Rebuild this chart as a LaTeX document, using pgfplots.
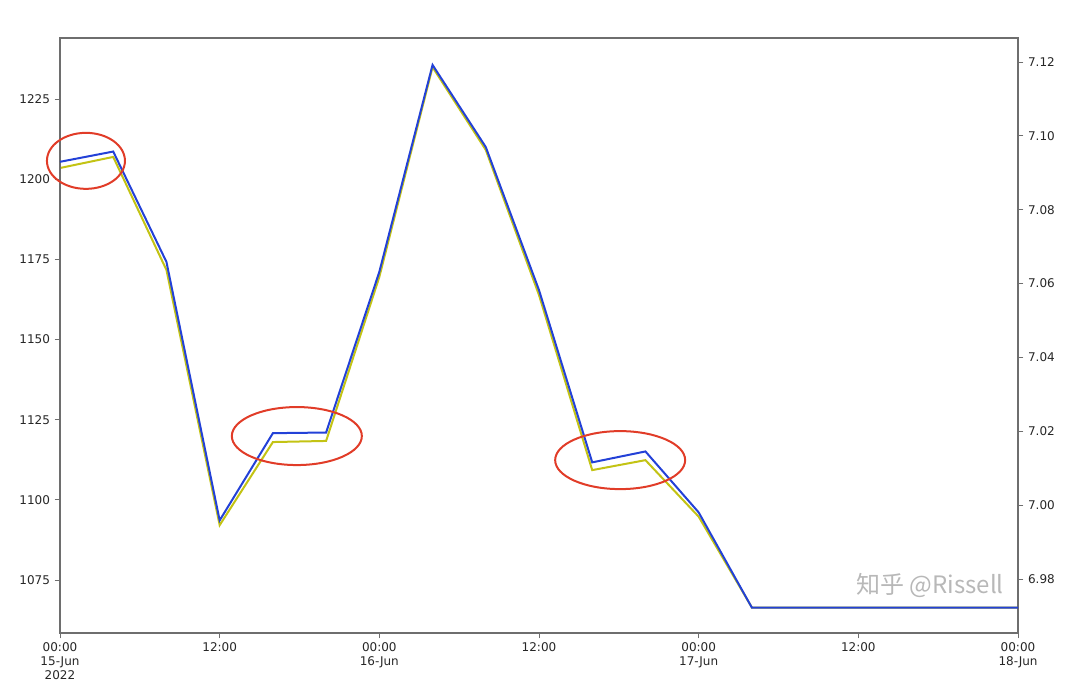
\documentclass[border=0pt]{standalone}
\usepackage{pgfplots}
\pgfplotsset{compat=1.18}
\usepackage{fontspec}
\setmainfont{DejaVu Sans}
\newfontfamily\cjk{Noto Sans CJK SC}
\definecolor{lblue}{RGB}{35,65,215}
\definecolor{lyellow}{RGB}{195,195,20}
\definecolor{ered}{RGB}{225,60,40}
\definecolor{framec}{RGB}{110,110,110}

\pgfplotstableread{
h usd
0 1205.4
4 1208.6
8 1174.2
12 1093.6
16 1120.8
20 1121.0
24 1171.1
28 1235.6
32 1210.0
36 1165.4
40 1111.7
44 1115.1
48 1096.1
52 1066.4
56 1066.4
60 1066.4
64 1066.4
68 1066.4
72 1066.4
}\bluedata

\pgfplotstableread{
h rate
0 7.0913
4 7.0943
8 7.0637
12 6.9946
16 7.0171
20 7.0174
24 7.0618
28 7.1186
32 7.0962
36 7.0569
40 7.0095
44 7.0122
48 6.9969
52 6.9723
56 6.9723
60 6.9723
64 6.9723
68 6.9723
72 6.9723
}\yellowdata

\begin{document}
\begin{tikzpicture}
\pgfplotsset{
  every axis/.append style={
    scale only axis, width=718.5pt, height=446.25pt,
    xmin=0, xmax=72,
    tick label style={font=\fontsize{9}{10.5}\selectfont, text=black!85},
    /pgf/number format/assume math mode=true,
    tick align=outside,
    major tick length=4pt,
    every tick/.style={framec, line width=0.6pt},
    axis line style={framec, line width=0.8pt},
  }
}
% right axis (yellow)
\begin{axis}[
  axis y line*=right, axis x line=none,
  ymin=6.9654, ymax=7.1265,
  ytick={6.98,7.00,7.02,7.04,7.06,7.08,7.10,7.12},
  yticklabel style={/pgf/number format/.cd, fixed, fixed zerofill, precision=2},
]
\addplot[lyellow, line width=1.5pt, line join=miter] table[x=h, y=rate] {\yellowdata};
\end{axis}
% left axis (blue)
\begin{axis}[
  name=ax,
  ymin=1058.5, ymax=1244.0,
  ytick={1075,1100,1125,1150,1175,1200,1225},
  ytick pos=left, xtick pos=bottom,
  yticklabel style={/pgf/number format/.cd, fixed, 1000 sep={}},
  xtick={0,12,24,36,48,60,72},
  xticklabels={{00:00\\15-Jun\\2022},{12:00},{00:00\\16-Jun},{12:00},{00:00\\17-Jun},{12:00},{00:00\\18-Jun}},
  xticklabel style={align=center},
  clip=false,
]
\addplot[lblue, line width=1.5pt, line join=miter] table[x=h, y=usd] {\bluedata};
\draw[ered, line width=1.5pt] (axis cs:1.95,1205.7) ellipse [x radius=29.25pt, y radius=21pt];
\draw[ered, line width=1.5pt] (axis cs:17.8,1119.9) ellipse [x radius=48.75pt, y radius=21.75pt];
\draw[ered, line width=1.5pt] (axis cs:42.1,1112.4) ellipse [x radius=48.75pt, y radius=21.75pt];
\end{axis}
\node[anchor=center, text=black!35, font=\cjk\fontsize{18}{20}\selectfont, opacity=0.8] at ([xshift=-66pt,yshift=36pt]ax.south east) {知乎 @Rissell};
\path (ax.south west) ++(-45pt,-39pt) coordinate (bl);
\path (ax.north east) ++(46.5pt,28.5pt) coordinate (tr);
\path (bl) rectangle (tr);
\end{tikzpicture}
\end{document}
